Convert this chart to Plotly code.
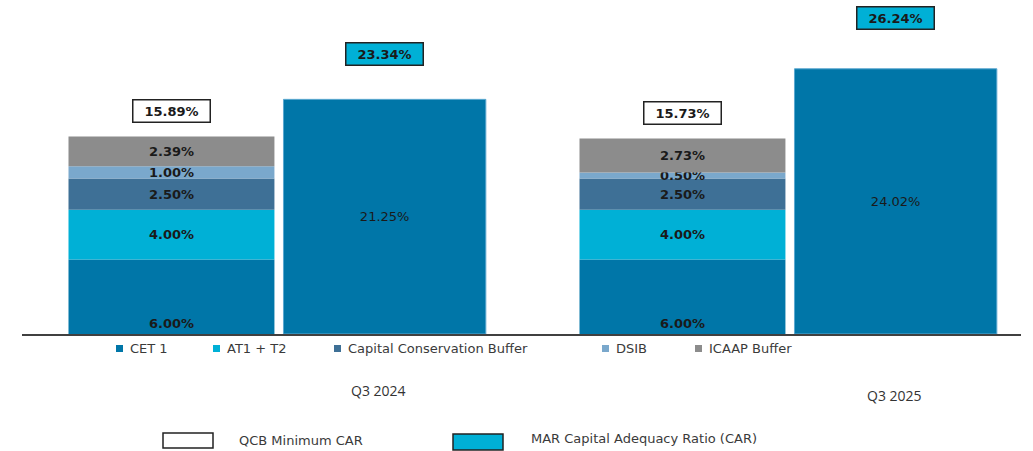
import plotly.graph_objects as go

# ---------------- data ----------------
categories = ["Q3 2024", "Q3 2025"]
cet1 = [6.00, 6.00]
at1_t2 = [4.00, 4.00]
ccb = [2.50, 2.50]
dsib = [1.00, 0.50]
icaap = [2.39, 2.73]
min_car = [15.89, 15.73]          # QCB minimum CAR (label above stacked bar)
car_bar = [21.25, 24.02]          # value shown inside the CAR bar
car_label = [23.34, 26.24]        # value shown in the box above the CAR bar

series_names = ["CET 1", "AT1 + T2", "Capital Conservation Buffer", "DSIB", "ICAAP Buffer"]
series_values = [cet1, at1_t2, ccb, dsib, icaap]
series_colors = ["#0076A8", "#00B0D6", "#3E7096", "#7AA8CC", "#8C8C8C"]
car_color = "#0076A8"
car_box_color = "#00B0D6"

# ---------------- layout helpers ----------------
W, H = 1033, 451
ML, MR, MT, MB = 22, 12, 0, 117
PW, PH = W - ML - MR, H - MT - MB
BOTTOM = H - MB


def pxx(x):
    return (x - ML) / PW


def pxy(y):
    return (BOTTOM - y) / PH


STACK_OFF, STACK_W = -0.408, 0.403
CAR_OFF, CAR_W = 0.0127, 0.396
FONT = "DejaVu Sans"
TXT = "#1a1a1a"

fig = go.Figure()

base = [0.0] * len(categories)
for name, vals, col in zip(series_names, series_values, series_colors):
    fig.add_trace(go.Bar(
        x=categories, y=vals, base=list(base), name=name,
        marker=dict(color=col, line=dict(width=0)),
        offset=STACK_OFF, width=STACK_W,
        text=[f"{v:.2f}%" for v in vals], textposition="inside",
        insidetextanchor="start" if name == "CET 1" else "middle",
        textangle=0, constraintext="none",
        insidetextfont=dict(family=FONT, size=13, color=TXT, weight="bold"),
        yaxis="y", showlegend=False, hoverinfo="skip",
    ))
    base = [b + v for b, v in zip(base, vals)]

fig.add_trace(go.Bar(
    x=categories, y=car_bar, name="MAR Capital Adequacy Ratio (CAR)",
    marker=dict(color=car_color, line=dict(width=1, color="#5BA8D0")),
    offset=CAR_OFF, width=CAR_W,
    text=[f"{v:.2f}%" for v in car_bar], textposition="inside",
    insidetextanchor="middle", textangle=0, constraintext="none",
    insidetextfont=dict(family=FONT, size=13, color=TXT),
    yaxis="y2", showlegend=False, hoverinfo="skip",
))

annotations = []
for i, v in enumerate(min_car):
    annotations.append(dict(
        x=i + STACK_OFF + STACK_W / 2, y=v, xref="x", yref="y",
        text=f"{v:.2f}%", showarrow=False, yanchor="bottom", yshift=13,
        bgcolor="white", bordercolor="#222222", borderwidth=1.5, borderpad=3,
        width=70, height=15,
        font=dict(family=FONT, size=13, color=TXT, weight="bold"),
    ))
for i, v in enumerate(car_label):
    annotations.append(dict(
        x=i + CAR_OFF + CAR_W / 2, y=v, xref="x", yref="y",
        text=f"{v:.2f}%", showarrow=False, yanchor="middle", yshift=-10,
        bgcolor=car_box_color, bordercolor="#222222", borderwidth=1.5, borderpad=3,
        width=70, height=15,
        font=dict(family=FONT, size=13, color=TXT, weight="bold"),
    ))

# legend row under the axis
legend_x = [116, 213, 334, 602, 695]
legend_y = 348
shapes = []
for lx, name, col in zip(legend_x, series_names, series_colors):
    shapes.append(dict(type="rect", xref="paper", yref="paper",
                       x0=pxx(lx), x1=pxx(lx + 7), y0=pxy(legend_y + 4), y1=pxy(legend_y - 3),
                       fillcolor=col, line=dict(width=0)))
    annotations.append(dict(x=pxx(lx + 12), y=pxy(legend_y), xref="paper", yref="paper",
                            text=name, showarrow=False, xanchor="left", yanchor="middle",
                            font=dict(family=FONT, size=13, color="#3a3a3a")))

# period labels
period_pos = [(378, 390), (894, 395)]
for (cx, cy), cat in zip(period_pos, categories):
    annotations.append(dict(x=pxx(cx), y=pxy(cy), xref="paper", yref="paper",
                            text=cat, showarrow=False, xanchor="center", yanchor="middle",
                            font=dict(family="Open Sans", size=14, color="#333333")))

# bottom key
key_items = [
    ("QCB Minimum CAR", "white", (163, 213, 433, 448), (237, 440)),
    ("MAR Capital Adequacy Ratio (CAR)", car_box_color, (453, 503, 434, 450), (529, 438)),
]
for label, fill, (x0, x1, y0, y1), (tx, ty) in key_items:
    shapes.append(dict(type="rect", xref="paper", yref="paper",
                       x0=pxx(x0), x1=pxx(x1), y0=pxy(y1), y1=pxy(y0),
                       fillcolor=fill, line=dict(width=1.5, color="#222222")))
    annotations.append(dict(x=pxx(tx), y=pxy(ty), xref="paper", yref="paper",
                            text=label, showarrow=False, xanchor="left", yanchor="middle",
                            font=dict(family=FONT, size=13, color="#3a3a3a")))

fig.update_layout(
    width=W, height=H,
    margin=dict(l=ML, r=MR, t=MT, b=MB, pad=0),
    paper_bgcolor="white", plot_bgcolor="white",
    barmode="overlay",
    showlegend=False,
    hovermode=False,
    xaxis=dict(type="category", range=[-0.499, 1.456], showline=True,
               linecolor="#404040", linewidth=2, showticklabels=False,
               showgrid=False, zeroline=False, ticks=""),
    yaxis=dict(range=[0, 26.87], visible=False, showgrid=False, zeroline=False),
    yaxis2=dict(range=[0, 30.25], overlaying="y", visible=False,
                showgrid=False, zeroline=False),
    annotations=annotations,
    shapes=shapes,
)

fig.write_html(
    "out.html",
    config={"displayModeBar": False},
    post_script="document.body.style.margin='0';document.body.style.overflow='hidden';",
)
